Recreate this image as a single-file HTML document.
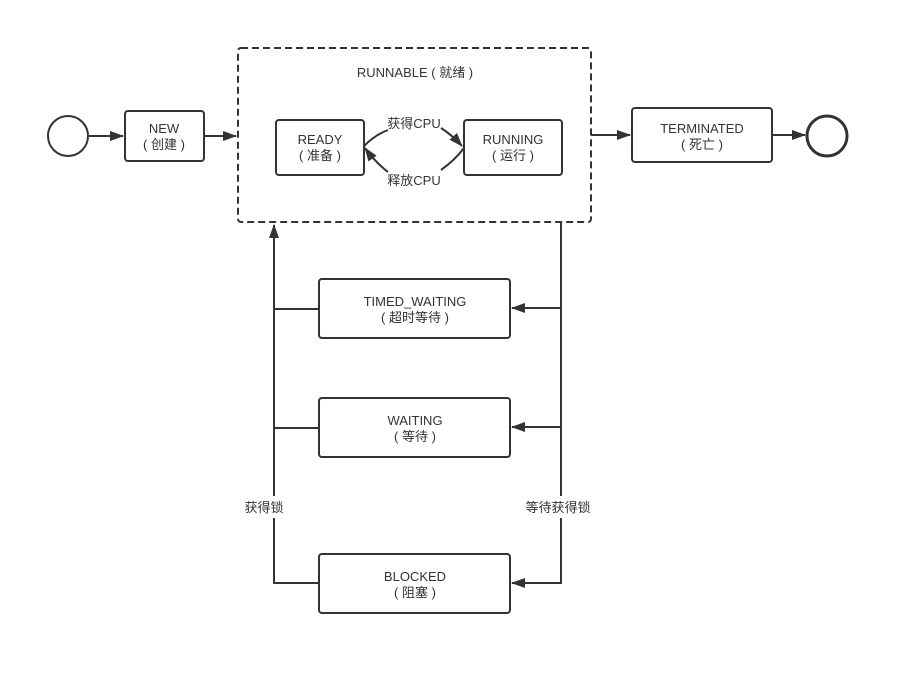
<!DOCTYPE html>
<html><head><meta charset="utf-8"><style>
body{margin:0;background:#fff;}
text{font-family:"Liberation Sans","Noto Sans CJK SC",sans-serif;font-size:13px;fill:#333;text-anchor:middle;}
</style></head><body>
<svg width="909" height="675" viewBox="0 0 909 675" xmlns="http://www.w3.org/2000/svg">
<defs><marker id="a" markerWidth="10" markerHeight="8" refX="9" refY="4" orient="auto" markerUnits="userSpaceOnUse"><path d="M0,0 L10,4 L0,8 z" fill="#333"/></marker>
<marker id="b" markerWidth="14" markerHeight="10" refX="13" refY="5" orient="auto" markerUnits="userSpaceOnUse"><path d="M0,0 L14,5 L0,10 z" fill="#333"/></marker></defs>
<g stroke="#333" stroke-width="2" fill="none">
<circle cx="68" cy="136" r="20"/>
<line x1="89" y1="136" x2="123" y2="136" marker-end="url(#b)"/>
<rect x="125" y="111" width="79" height="50" rx="3"/>
<line x1="204" y1="136" x2="236" y2="136" marker-end="url(#b)"/>
<rect x="238" y="48" width="353" height="174" rx="3" stroke-dasharray="7,4"/>
<rect x="276" y="120" width="88" height="55" rx="3"/>
<rect x="464" y="120" width="98" height="55" rx="3"/>
<path d="M364,146 Q375,135 388,130"/>
<path d="M441,128 Q452,135 462,146" marker-end="url(#b)"/>
<path d="M464,148 Q455,160 441,170"/>
<path d="M388,172 Q375,162 365,148" marker-end="url(#b)"/>
<line x1="591" y1="135" x2="630" y2="135" marker-end="url(#b)"/>
<rect x="632" y="108" width="140" height="54" rx="3"/>
<line x1="772" y1="135" x2="805" y2="135" marker-end="url(#b)"/>
<circle cx="827" cy="136" r="20" stroke-width="3"/>
<polyline points="319,583 274,583 274,518"/>
<line x1="274" y1="496" x2="274" y2="225" marker-end="url(#b)"/>
<line x1="274" y1="309" x2="319" y2="309"/>
<line x1="274" y1="428" x2="319" y2="428"/>
<line x1="561" y1="222" x2="561" y2="496"/>
<polyline points="561,518 561,583 512,583" marker-end="url(#b)"/>
<polyline points="561,308 512,308" marker-end="url(#b)"/>
<polyline points="561,427 512,427" marker-end="url(#b)"/>
<rect x="319" y="279" width="191" height="59" rx="3"/>
<rect x="319" y="398" width="191" height="59" rx="3"/>
<rect x="319" y="554" width="191" height="59" rx="3"/>
</g>
<text x="164" y="133">NEW</text><text x="164" y="149">( 创建 )</text>
<text x="415" y="77">RUNNABLE ( 就绪 )</text>
<text x="320" y="144">READY</text><text x="320" y="160">( 准备 )</text>
<text x="513" y="144">RUNNING</text><text x="513" y="160">( 运行 )</text>
<text x="414" y="128">获得CPU</text><text x="414" y="185">释放CPU</text>
<text x="702" y="133">TERMINATED</text><text x="702" y="149">( 死亡 )</text>
<text x="415" y="306">TIMED_WAITING</text><text x="415" y="322">( 超时等待 )</text>
<text x="415" y="425">WAITING</text><text x="415" y="441">( 等待 )</text>
<text x="415" y="581">BLOCKED</text><text x="415" y="597">( 阻塞 )</text>
<text x="264" y="512">获得锁</text><text x="558" y="512">等待获得锁</text>
</svg>
</body></html>
